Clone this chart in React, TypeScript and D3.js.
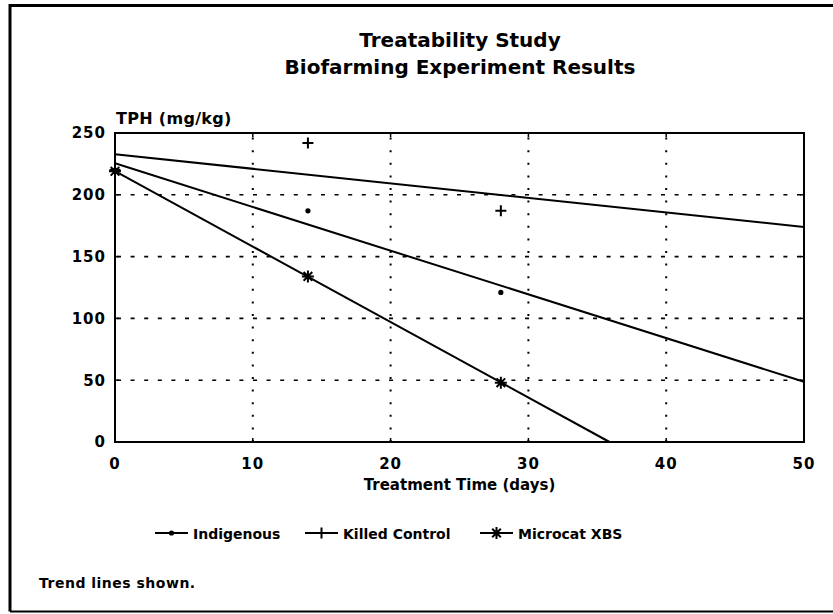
import React from "react";
import * as d3 from "d3";

// values
const days = [0, 14, 28];
const indigenous = [220, 187, 121];
const killedControl = [220, 242, 187];
const microcat = [219, 134, 48];

const xTicks = [0, 10, 20, 30, 40, 50];
const yTicks = [0, 50, 100, 150, 200, 250];

const seriesNames = ["Indigenous", "Killed Control", "Microcat XBS"];
const seriesValues = [indigenous, killedControl, microcat];
const seriesMarkers = ["dot", "plus", "star"];

const FONT = "'DejaVu Sans', sans-serif";

// least squares fit, gives [slope, intercept]
function fit(xs: number[], ys: number[]) {
  const mx = d3.mean(xs) as number;
  const my = d3.mean(ys) as number;
  let num = 0;
  let den = 0;
  xs.forEach((x, i) => {
    num += (x - mx) * (ys[i] - my);
    den += (x - mx) * (x - mx);
  });
  const slope = num / den;
  return [slope, my - slope * mx];
}

function Marker({ kind, cx, cy }: { kind: string; cx: number; cy: number }) {
  if (kind === "dot") return <circle cx={cx} cy={cy} r={2.6} fill="#000" />;
  if (kind === "plus")
    return (
      <path
        d={`M${cx - 5.5},${cy}H${cx + 5.5}M${cx},${cy - 5.5}V${cy + 5.5}`}
        stroke="#000"
        strokeWidth={2}
      />
    );
  const s = 6;
  const d = s * 0.72;
  return (
    <path
      d={`M${cx - s},${cy}H${cx + s}M${cx},${cy - s}V${cy + s}M${cx - d},${cy - d}L${cx + d},${cy + d}M${cx - d},${cy + d}L${cx + d},${cy - d}`}
      stroke="#000"
      strokeWidth={2}
    />
  );
}

export default function App() {
  const width = 833;
  const height = 614;
  const margin = { top: 133, right: 29, bottom: 172, left: 115 };

  const x = d3.scaleLinear().domain([0, 50]).range([margin.left, width - margin.right]);
  const y = d3.scaleLinear().domain([0, 250]).range([height - margin.bottom, margin.top]);

  const [x0, x1] = x.range();
  const [y0, y1] = y.range();

  const line = d3
    .line<[number, number]>()
    .x((d) => x(d[0]))
    .y((d) => y(d[1]));

  const trends = seriesValues.map((vals) => {
    const [m, b] = fit(days, vals);
    let xEnd = 50;
    if (b + m * 50 < 0) xEnd = -b / m;
    return line([
      [0, b],
      [xEnd, b + m * xEnd],
    ]);
  });

  // legend item positions
  const legendX = [155, 305, 480];
  const legendY = 533;

  return (
    <svg
      width={width}
      height={height}
      style={{ position: "absolute", left: 0, top: 0, background: "#fff" }}
    >
      {/* outer frame */}
      <path d="M10,611.5V5.5H833" fill="none" stroke="#000" strokeWidth={3} />
      <line x1={10} x2={833} y1={611.5} y2={611.5} stroke="#000" strokeWidth={2} />

      <g fontFamily={FONT} fontWeight="bold" fill="#000">
        <text x={460} y={47} textAnchor="middle" fontSize={20}>
          Treatability Study
        </text>
        <text x={460} y={74} textAnchor="middle" fontSize={20}>
          Biofarming Experiment Results
        </text>
        <text x={116} y={124} fontSize={16} letterSpacing={0.3}>
          TPH (mg/kg)
        </text>
      </g>

      {/* grid */}
      {yTicks.slice(1, -1).map((t) => (
        <line
          key={"gy" + t}
          x1={x0}
          x2={x1}
          y1={y(t)}
          y2={y(t)}
          stroke="#000"
          strokeWidth={1.6}
          strokeDasharray="4 9.6"
          strokeDashoffset={-2}
        />
      ))}
      {xTicks.slice(1, -1).map((t) => (
        <line
          key={"gx" + t}
          x1={x(t)}
          x2={x(t)}
          y1={y0}
          y2={y1}
          stroke="#000"
          strokeWidth={2}
          strokeDasharray="2 10.6"
        />
      ))}

      {/* small inward ticks */}
      {yTicks.map((t) => (
        <g key={"ty" + t}>
          <line x1={x0} x2={x0 + 4} y1={y(t)} y2={y(t)} stroke="#000" strokeWidth={1.5} />
          <line x1={x1} x2={x1 - 4} y1={y(t)} y2={y(t)} stroke="#000" strokeWidth={1.5} />
        </g>
      ))}
      {xTicks.map((t) => (
        <g key={"tx" + t}>
          <line x1={x(t)} x2={x(t)} y1={y0} y2={y0 - 4} stroke="#000" strokeWidth={1.5} />
          <line x1={x(t)} x2={x(t)} y1={y1} y2={y1 + 4} stroke="#000" strokeWidth={1.5} />
        </g>
      ))}

      {/* plot frame */}
      <rect x={x0} y={y1} width={x1 - x0} height={y0 - y1} fill="none" stroke="#000" strokeWidth={2} />

      {/* trend lines */}
      {trends.map((d, i) => (
        <path key={"tr" + i} d={d || ""} fill="none" stroke="#000" strokeWidth={2} />
      ))}

      {/* data points */}
      {seriesValues.map((vals, i) =>
        vals.map((v, j) => (
          <Marker key={`m${i}-${j}`} kind={seriesMarkers[i]} cx={x(days[j])} cy={y(v)} />
        ))
      )}

      {/* tick labels */}
      <g fontFamily={FONT} fontWeight="bold" fontSize={15} fill="#000">
        {yTicks.map((t) => (
          <text key={"ly" + t} x={x0 - 9} y={y(t)} dy="0.36em" textAnchor="end" letterSpacing={1}>
            {t}
          </text>
        ))}
        {xTicks.map((t) => (
          <text key={"lx" + t} x={x(t)} y={469} textAnchor="middle" letterSpacing={1}>
            {t}
          </text>
        ))}
        <text x={(x0 + x1) / 2} y={490} textAnchor="middle">
          Treatment Time (days)
        </text>
      </g>

      {/* legend */}
      <g fontFamily={FONT} fontWeight="bold" fontSize={14} fill="#000">
        {seriesNames.map((name, i) => (
          <g key={"lg" + i}>
            <line
              x1={legendX[i]}
              x2={legendX[i] + 33}
              y1={legendY}
              y2={legendY}
              stroke="#000"
              strokeWidth={2}
            />
            <Marker kind={seriesMarkers[i]} cx={legendX[i] + 16.5} cy={legendY} />
            <text x={legendX[i] + 38} y={legendY + 6}>
              {name}
            </text>
          </g>
        ))}
        <text x={39} y={588} fontSize={14} letterSpacing={0.5}>
          Trend lines shown.
        </text>
      </g>
    </svg>
  );
}
